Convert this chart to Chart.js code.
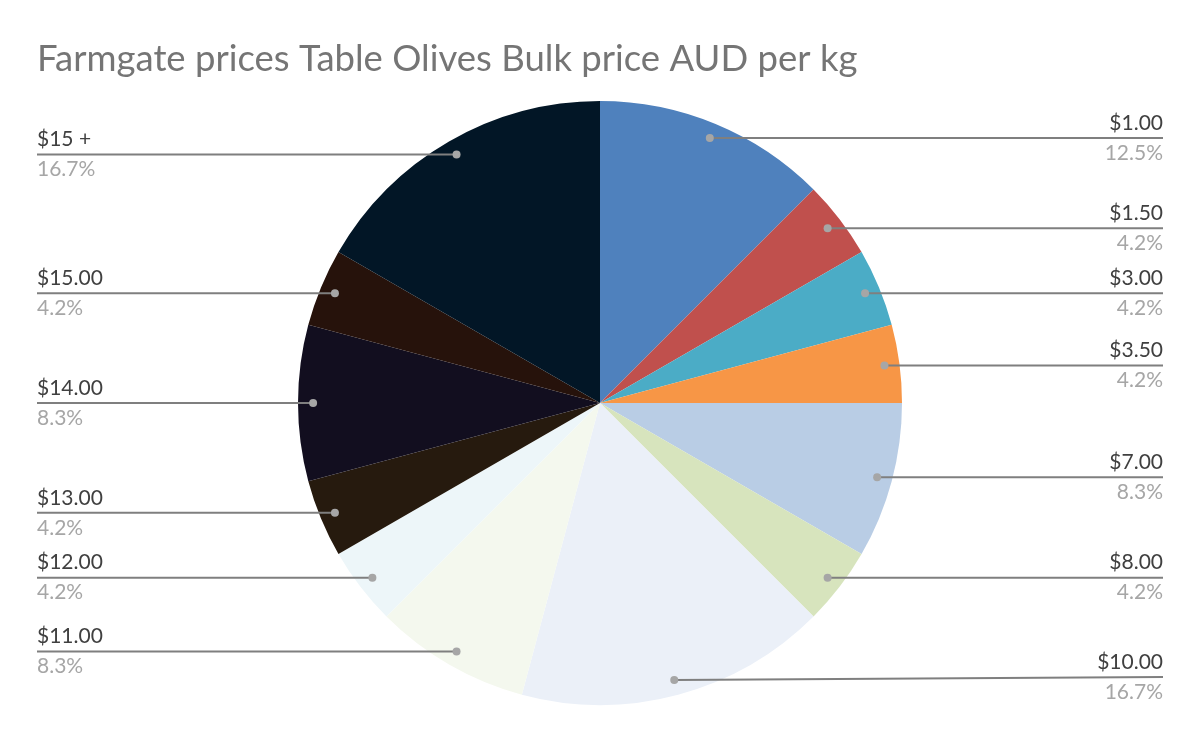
<!DOCTYPE html>
<html>
<head>
<meta charset="utf-8">
<script src="https://cdn.jsdelivr.net/npm/chart.js@4.4.1/dist/chart.umd.min.js"></script>
<style>
  html, body { margin: 0; padding: 0; background: #fff; }
  #wrap { width: 1200px; height: 742px; position: relative; }
</style>
</head>
<body>
<div id="wrap"><canvas id="chart"></canvas></div>
<script>
// ── Data ──────────────────────────────────────────────────────────────────────
const title = 'Farmgate prices Table Olives Bulk price AUD per kg';
const priceLabels = ['$1.00', '$1.50', '$3.00', '$3.50', '$7.00', '$8.00', '$10.00',
                     '$11.00', '$12.00', '$13.00', '$14.00', '$15.00', '$15 +'];
const responses   = [3, 1, 1, 1, 2, 1, 4, 2, 1, 1, 2, 1, 4];
const sliceColors = ['#4F81BD', '#C0504D', '#4BACC6', '#F79646', '#B9CDE5', '#D7E4BD', '#EBF0F8',
                     '#F4F8EE', '#EDF6F9', '#261A0E', '#120E1F', '#26120B', '#021626'];

const FONT = 'Lato, "Open Sans", sans-serif';

// ── Title + leader-line labels ────────────────────────────────────────────────
const labelPlugin = {
  id: 'leaderLabels',
  afterDraw(chart) {
    const ctx = chart.ctx;
    const meta = chart.getDatasetMeta(0);
    const total = responses.reduce((a, b) => a + b, 0);

    ctx.save();
    ctx.fillStyle = '#757575';
    ctx.font = '36.5px ' + FONT;
    ctx.textAlign = 'left';
    ctx.textBaseline = 'middle';
    ctx.fillText(title, 37, 59);

    meta.data.forEach((arc, i) => {
      const mid = (arc.startAngle + arc.endAngle) / 2;
      const r = arc.outerRadius * 0.95;
      const dx = arc.x + Math.cos(mid) * r;
      const dy = arc.y + Math.sin(mid) * r;
      const right = dx > arc.x;
      const edge = right ? 1163 : 37;
      const ly = Math.min(dy, 677);

      ctx.strokeStyle = '#7F7F7F';
      ctx.lineWidth = 2;
      ctx.beginPath();
      ctx.moveTo(dx, dy);
      ctx.lineTo(edge, ly);
      ctx.stroke();

      ctx.fillStyle = '#A6A6A6';
      ctx.beginPath();
      ctx.arc(dx, dy, 4, 0, Math.PI * 2);
      ctx.fill();

      ctx.textAlign = right ? 'right' : 'left';
      ctx.font = '21px ' + FONT;
      ctx.fillStyle = '#404040';
      ctx.fillText(priceLabels[i], edge, ly - 15);
      ctx.fillStyle = '#A6A6A6';
      ctx.fillText((responses[i] / total * 100).toFixed(1) + '%', edge, ly + 15);
    });
    ctx.restore();
  }
};

// ── Chart ─────────────────────────────────────────────────────────────────────
new Chart(document.getElementById('chart'), {
  type: 'pie',
  data: {
    labels: priceLabels,
    datasets: [{
      data: responses,
      backgroundColor: sliceColors,
      borderWidth: 0,
    }]
  },
  options: {
    responsive: true,
    maintainAspectRatio: false,
    animation: false,
    layout: { padding: { top: 101, bottom: 37, left: 200, right: 200 } },
    plugins: {
      legend: { display: false },
      tooltip: { enabled: false },
    }
  },
  plugins: [labelPlugin]
});
</script>
</body>
</html>
